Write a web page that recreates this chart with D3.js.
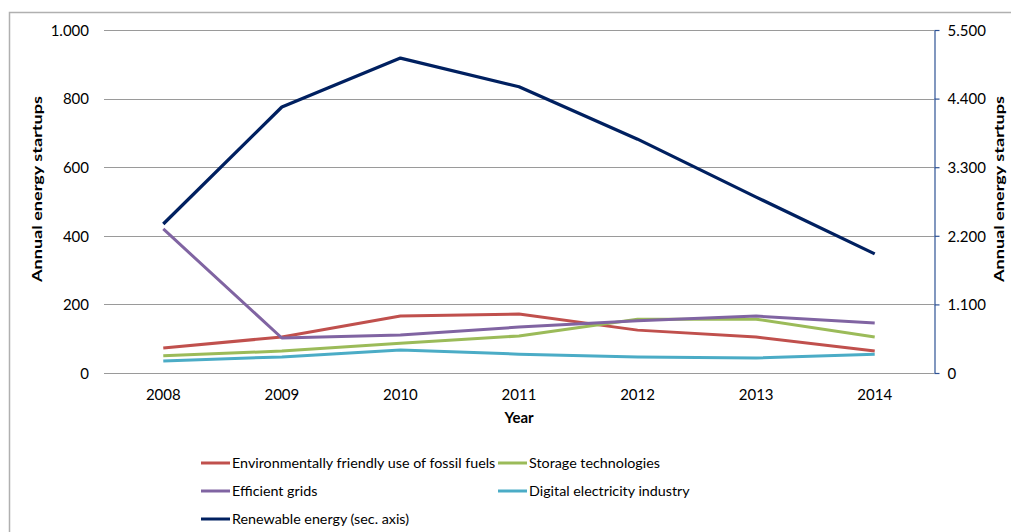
<!DOCTYPE html>
<html>
<head>
<meta charset="utf-8">
<script src="https://cdn.jsdelivr.net/npm/d3@7"></script>
<style>
  body { margin: 0; background: #fff; }
  text { font-family: Lato, "Open Sans", sans-serif; fill: #000; }
</style>
</head>
<body>
<div id="chart"></div>
<script>
var years = ["2008", "2009", "2010", "2011", "2012", "2013", "2014"];
var fossil = [73, 105, 166, 172, 125, 105, 64];
var storage = [50, 64, 87, 108, 157, 157, 105];
var grids = [420, 102, 111, 134, 152, 166, 146];
var digital = [35, 47, 67, 55, 47, 44, 55];
var renewable = [2390, 4265, 5050, 4590, 3750, 2820, 1910];
var leftTicks = [0, 200, 400, 600, 800, 1000];
var rightTicks = [0, 1100, 2200, 3300, 4400, 5500];

var series = [
  { name: "Environmentally friendly use of fossil fuels", values: fossil, color: "#c0504d", axis: "left" },
  { name: "Storage technologies", values: storage, color: "#9bbb59", axis: "left" },
  { name: "Efficient grids", values: grids, color: "#8064a2", axis: "left" },
  { name: "Digital electricity industry", values: digital, color: "#4bacc6", axis: "left" },
  { name: "Renewable energy (sec. axis)", values: renewable, color: "#002060", axis: "right" }
];

var width = 1011, height = 532;
var margin = { left: 104, right: 77, top: 30, bottom: 159 };

var svg = d3.select('#chart').append('svg')
  .attr('width', width)
  .attr('height', height)

// outer frame
svg.append('rect')
  .attr('x', 9.5).attr('y', 12.5)
  .attr('width', width + 10).attr('height', height + 10)
  .attr('fill', 'none')
  .attr('stroke', '#b0b0b0')
  .attr('stroke-width', 1.5)

var x = d3.scaleBand().domain(years)
  .range([margin.left, width - margin.right])
  .padding(0)

var yL = d3.scaleLinear().domain([0, 1000])
  .range([height - margin.bottom, margin.top])

var yR = d3.scaleLinear().domain([0, 5500])
  .range([height - margin.bottom, margin.top])

var fmt = function(v){ return d3.format(",")(v).replace(/,/g, ".") };

// gridlines
svg.selectAll('.grid')
  .data(leftTicks).enter().append('line')
  .attr('class', 'grid')
  .attr('x1', margin.left)
  .attr('x2', width - margin.right)
  .attr('y1', function(d){ return Math.round(yL(d)) + 0.5 })
  .attr('y2', function(d){ return Math.round(yL(d)) + 0.5 })
  .attr('stroke', '#9a9a9a')
  .attr('stroke-width', 1.2)

// left axis labels
var leftAxis = svg.append('g')
  .attr('transform', 'translate(' + (margin.left - 15) + ',0)')
  .call(d3.axisLeft(yL).tickValues(leftTicks).tickSize(0).tickFormat(fmt))
leftAxis.select('.domain').remove();
leftAxis.selectAll('text').attr('font-size', '15px').attr('x', 0).attr('dy', '0.35em')
  .style('font-family', 'Lato, sans-serif')

// right axis
var rightAxis = svg.append('g')
  .attr('transform', 'translate(' + (width - margin.right + 0.5) + ',0)')
  .call(d3.axisRight(yR).tickValues(rightTicks).tickSize(5).tickSizeOuter(0).tickFormat(fmt))
rightAxis.select('.domain').attr('stroke', '#2e5294').attr('stroke-width', 1.2)
rightAxis.selectAll('line').attr('stroke', '#2e5294').attr('stroke-width', 1.2)
rightAxis.selectAll('text').attr('font-size', '15px').attr('x', 13).attr('dy', '0.35em')
  .style('font-family', 'Lato, sans-serif')

// x axis labels
var xAxis = svg.append('g')
  .attr('transform', 'translate(0,' + (height - margin.bottom) + ')')
  .call(d3.axisBottom(x).tickSize(0))
xAxis.select('.domain').remove();
xAxis.selectAll('text').attr('font-size', '15px').attr('y', 16).attr('dy', '0.71em')
  .style('font-family', 'Lato, sans-serif')

// axis titles
svg.append('text')
  .attr('transform', 'translate(42,' + 189 + ') rotate(-90)')
  .attr('text-anchor', 'middle')
  .attr('font-size', '14px')
  .attr('font-weight', 'bold')
  .attr('textLength', 186)
  .attr('lengthAdjust', 'spacingAndGlyphs')
  .text('Annual energy startups')

svg.append('text')
  .attr('transform', 'translate(1004,' + 189 + ') rotate(-90)')
  .attr('text-anchor', 'middle')
  .attr('font-size', '14px')
  .attr('font-weight', 'bold')
  .attr('textLength', 186)
  .attr('lengthAdjust', 'spacingAndGlyphs')
  .text('Annual energy startups')

svg.append('text')
  .attr('x', x('2011') + x.bandwidth() / 2)
  .attr('y', 423)
  .attr('text-anchor', 'middle')
  .attr('font-size', '15px')
  .attr('font-weight', 'bold')
  .text('Year')

// lines
var lines = svg.selectAll('.series')
  .data(series).enter().append('path')
  .attr('class', 'series')
  .attr('fill', 'none')
  .attr('stroke', function(d){ return d.color })
  .attr('stroke-width', function(d){ return d.axis === 'right' ? 3.3 : 3 })
  .attr('stroke-linejoin', 'round')
  .attr('d', function(d){
    var yScale = d.axis === 'right' ? yR : yL;
    return d3.line()
      .x(function(v, i){ return x(years[i]) + x.bandwidth() / 2 })
      .y(function(v){ return yScale(v) })(d.values)
  })

// legend
var legendPos = [[201, 463], [498, 463], [201, 491], [498, 491], [201, 519]];
var legend = svg.selectAll('.legend')
  .data(series).enter().append('g')
  .attr('class', 'legend')
  .attr('transform', function(d, i){ return 'translate(' + legendPos[i][0] + ',' + legendPos[i][1] + ')' })

legend.append('line')
  .attr('x1', 0).attr('x2', 29)
  .attr('y1', 0).attr('y2', 0)
  .attr('stroke', function(d){ return d.color })
  .attr('stroke-width', 3)

legend.append('text')
  .attr('x', 31)
  .attr('dy', '0.35em')
  .attr('font-size', '14.3px')
  .text(function(d){ return d.name })
</script>
</body>
</html>
